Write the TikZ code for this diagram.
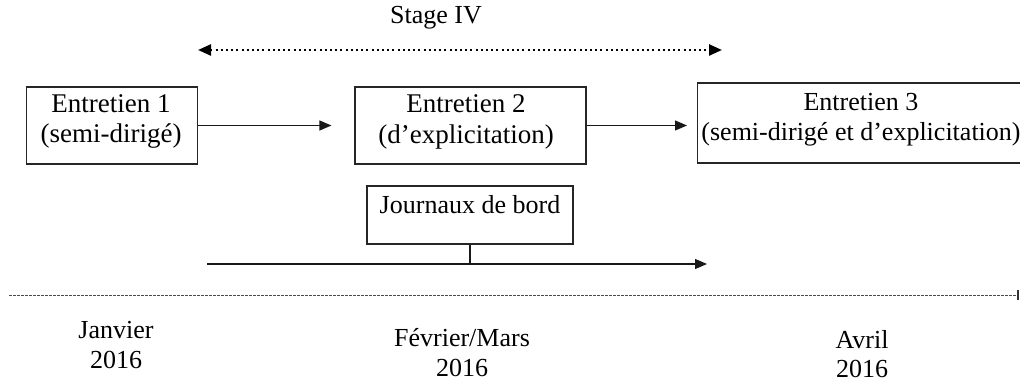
\documentclass[tikz,border=0pt]{standalone}
\usepackage{fontspec}
\setmainfont{Liberation Serif}
\usetikzlibrary{arrows.meta}
\tikzset{
  box/.style={draw=black!85, line width=1.2pt, rectangle, inner sep=0pt},
  lbl/.style={align=center, inner sep=0pt},
  arr/.style={draw=black!90, line width=1.2pt, -{Triangle[length=12pt,width=10pt]}},
  tl/.style={draw=black!70, line width=1pt, dash pattern=on 2.5pt off 1.5pt},
  stagearr/.style={draw=black, line width=2.4pt, dash pattern=on 2pt off 3.2pt,
     {Triangle[length=13pt,width=11pt]}-{Triangle[length=13pt,width=11pt]}}
}
\begin{document}
\begin{tikzpicture}[x=1pt,y=-1pt, font=\fontsize{26}{30}\selectfont]
\useasboundingbox (0,0) rectangle (1020,382);
\fill[white] (0,0) rectangle (1020,382);

\node[lbl] (stage) at (436,18) {Stage IV};
\coordinate (sa) at (198,50);
\coordinate (sb) at (722,50);
\draw[stagearr] (sa) -- (sb);

\node[box, minimum width=171pt, minimum height=77pt] (e1) at (112,125.5) {};
\node[lbl, font=\fontsize{27}{30}\selectfont] (e1t) at (111,121) {Entretien 1\\(semi-dirigé)};
\node[box, minimum width=231pt, minimum height=77pt] (e2) at (470.5,125.5) {};
\node[lbl, font=\fontsize{27}{31}\selectfont] (e2t) at (466,122) {Entretien 2\\(d’explicitation)};
\node[box, minimum width=325pt, minimum height=80pt, anchor=west] (e3) at (697,123) {};
\node[lbl] (e3t) at (861,120) {Entretien 3\\(semi-dirigé et d’explicitation)};

\draw[arr, shorten >=23pt] (e1.east) -- (e2.west |- e1.east);
\draw[arr, shorten >=10pt] (e2.east) -- (e3.west |- e2.east);

\node[box, minimum width=206pt, minimum height=58pt] (j) at (470,215) {};
\node[lbl, anchor=north] (jt) at ([yshift=-10pt]j.north) {Journaux de bord};
\coordinate (ja) at (207,264);
\coordinate (jb) at (707,264);
\draw[arr] (ja) -- (jb);
\draw[draw=black!90, line width=1.2pt] (j.south) -- (j.south |- ja);

\coordinate (ta) at (9,295);
\coordinate (tb) at (1018,295);
\draw[tl] (ta) -- (tb);
\draw[draw=black!80, line width=1.4pt] ([yshift=-5pt]tb) -- ([yshift=5pt]tb);

\node[lbl] (d1) at (116,330) {Janvier};
\node[lbl] (y1) at (116,360) {2016};
\node[lbl] (d2) at (462,338) {Février/Mars};
\node[lbl] (y2) at (462,368) {2016};
\node[lbl] (d3) at (862,340) {Avril};
\node[lbl] (y3) at (862,369) {2016};
\end{tikzpicture}
\end{document}
